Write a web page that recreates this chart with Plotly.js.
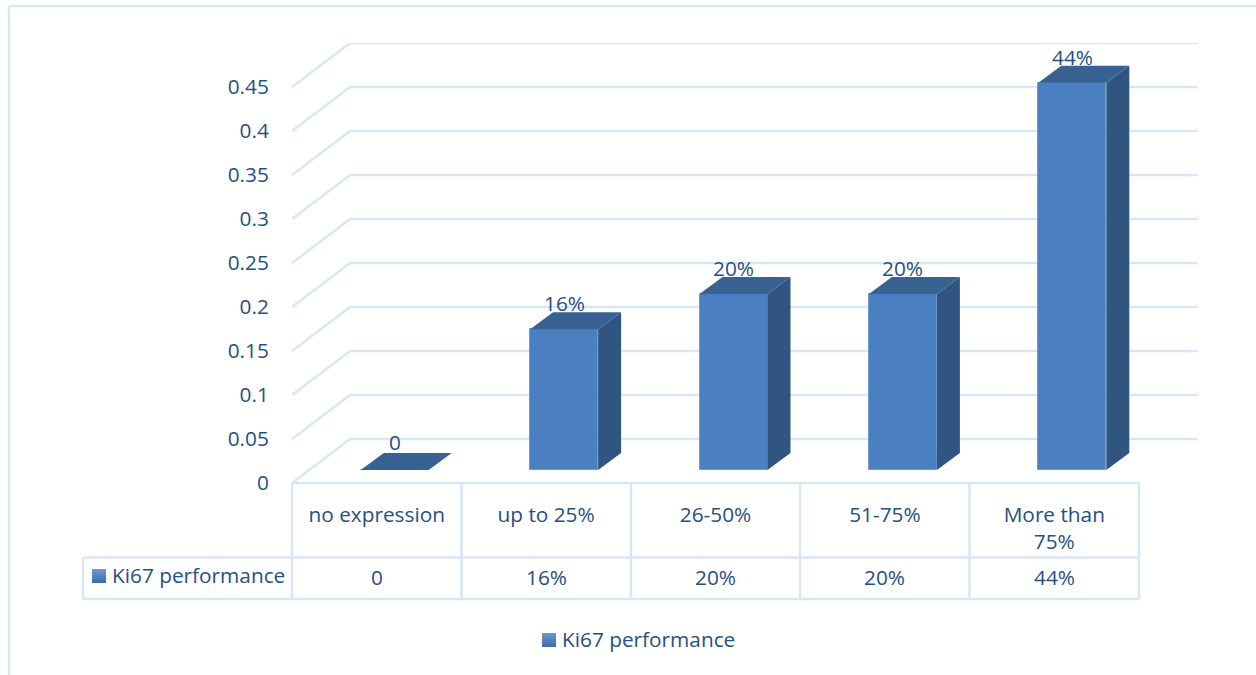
<!DOCTYPE html>
<html>
<head>
<meta charset="utf-8">
<script src="https://cdn.plot.ly/plotly-3.0.1.min.js"></script>
<style>html,body{margin:0;padding:0;background:#fff}#chart{width:1256px;height:675px}</style>
</head>
<body>
<div id="chart"></div>
<script>
// Ki67 expression groups and their share of cases
const categories = ['no expression', 'up to 25%', '26-50%', '51-75%', 'More than<br>75%'];
const values = [0, 0.16, 0.20, 0.20, 0.44];
const valueLabels = ['0', '16%', '20%', '20%', '44%'];
const seriesName = 'Ki67 performance';
const yTicks = [0, 0.05, 0.1, 0.15, 0.2, 0.25, 0.3, 0.35, 0.4, 0.45];
const yTickText = ['0', '0.05', '0.1', '0.15', '0.2', '0.25', '0.3', '0.35', '0.4', '0.45'];

// Plot frame in page pixels
const L = 292, R = 1198, T = 43, B = 483;
const colW = 169.4, pxPerUnit = 880;
const textCol = '#264f82', gridCol = '#d9e6f5';
const font = 'Open Sans, Noto Sans, sans-serif', fs = 20.8;

const px = x => (x - L) / (R - L);
const py = y => (B - y) / (B - T);
const idx = categories.map((_, i) => i);

// Front plane: category 0 sits in the middle of the first table column
const xMin = -0.5, xMax = xMin + (R - L) / colW;
// Wall depth in axis units
const wallDx = 58 / colW, wallDy = 0.05;
// The bars stand a little way into the floor
const barDx = 18 / colW, barDy = 13 / pxPerUnit;
const barW = 68 / colW;
const depthDx = 23 / colW, depthDy = 17 / pxPerUnit;

const traces = [];

// Gridlines run up the side wall and along the back wall
yTicks.forEach(v => traces.push({
  type: 'scatter', mode: 'lines', xaxis: 'x', yaxis: 'y',
  x: [xMin, xMin + wallDx, xMax], y: [v, v + wallDy, v + wallDy],
  line: {color: gridCol, width: 2.5}, cliponaxis: false,
  hoverinfo: 'skip', showlegend: false
}));

// Front faces of the columns
traces.push({
  type: 'bar', xaxis: 'x2', yaxis: 'y2', name: seriesName,
  x: idx, y: values, width: barW,
  marker: {color: '#4a80c2', line: {color: '#6d9ad2', width: 1}},
  hoverinfo: 'x+y', showlegend: false
});

// Top and side faces of the columns
values.forEach((v, i) => {
  const a = i - barW / 2, b = i + barW / 2;
  traces.push({
    type: 'scatter', mode: 'lines', xaxis: 'x2', yaxis: 'y2', fill: 'toself',
    x: [b, b, b + depthDx, b + depthDx, b], y: [0, v, v + depthDy, depthDy, 0],
    fillcolor: '#2f5580', line: {color: '#2f5580', width: 0},
    hoverinfo: 'skip', showlegend: false, cliponaxis: false
  });
  traces.push({
    type: 'scatter', mode: 'lines', xaxis: 'x2', yaxis: 'y2', fill: 'toself',
    x: [a, b, b + depthDx, a + depthDx, a], y: [v, v, v + depthDy, v + depthDy, v],
    fillcolor: '#386292', line: {color: '#386292', width: 0},
    hoverinfo: 'skip', showlegend: false, cliponaxis: false
  });
});

// Table rules under the plot
const shapes = [];
const rule = (x0, y0, x1, y1) => shapes.push({
  type: 'line', xref: 'paper', yref: 'paper',
  x0: px(x0), y0: py(y0), x1: px(x1), y1: py(y1),
  line: {color: gridCol, width: 2.5}
});
rule(L, B, 1139, B);
rule(83, 557.5, 1139, 557.5);
rule(83, 599, 1139, 599);
rule(83, 557.5, 83, 599);
[292, 461.5, 631, 800, 969.5, 1139].forEach(x => rule(x, B, x, 599));

// Outer chart frame
rule(9, 6, 1256, 6);
rule(9, 6, 9, 675);

// Series key: a small square shaded from light at the top to dark at the bottom
const swatch = (x, y) => {
  const size = 14, c0 = [112, 151, 207], c1 = [58, 110, 176];
  for (let r = 0; r < size; r++) {
    const f = r / (size - 1);
    const c = c0.map((v, k) => Math.round(v + (c1[k] - v) * f));
    shapes.push({
      type: 'rect', xref: 'paper', yref: 'paper', layer: 'above',
      x0: px(x), x1: px(x + size), y0: py(y + r + 1), y1: py(y + r),
      fillcolor: `rgb(${c.join(',')})`, line: {width: 0}
    });
  }
};
swatch(92, 569);
swatch(542, 633);

const annotations = [];
const textFont = {family: font, size: fs, color: textCol};

// Data labels above the columns
values.forEach((v, i) => annotations.push({
  xref: 'x2', yref: 'y2', x: i, y: v, yshift: v === 0 ? 28 : 26,
  text: valueLabels[i], showarrow: false, font: textFont,
  xanchor: 'center', yanchor: 'middle'
}));
// Value row of the table
valueLabels.forEach((t, i) => annotations.push({
  xref: 'x', yref: 'paper', x: i, y: py(577),
  text: t, showarrow: false, font: textFont,
  xanchor: 'center', yanchor: 'middle'
}));
// Row header and the key under the table
[[112, 574.5], [562, 638.5]].forEach(([x, y]) => annotations.push({
  xref: 'paper', yref: 'paper', x: px(x), y: py(y),
  text: seriesName, showarrow: false, font: textFont,
  xanchor: 'left', yanchor: 'middle', xshift: -2
}));

const layout = {
  width: 1256, height: 675,
  margin: {l: L, r: 1256 - R, t: T, b: 675 - B, pad: 0},
  paper_bgcolor: '#fff', plot_bgcolor: 'rgba(0,0,0,0)',
  font: textFont,
  xaxis: {
    type: 'linear', range: [xMin, xMax], showgrid: false, zeroline: false, showline: false,
    tickmode: 'array', tickvals: idx, ticktext: categories, tickangle: 0,
    ticks: 'outside', ticklen: 13, tickcolor: 'rgba(0,0,0,0)', tickfont: textFont,
    automargin: false
  },
  yaxis: {
    type: 'linear', range: [0, 0.5], showgrid: false, zeroline: false, showline: false,
    tickmode: 'array', tickvals: yTicks, ticktext: yTickText,
    ticks: 'outside', ticklen: 18, tickcolor: 'rgba(0,0,0,0)', tickfont: textFont,
    automargin: false
  },
  xaxis2: {
    type: 'linear', overlaying: 'x', side: 'bottom',
    range: [xMin - barDx, xMax - barDx], visible: false
  },
  yaxis2: {
    type: 'linear', overlaying: 'y', side: 'left',
    range: [-barDy, 0.5 - barDy], visible: false
  },
  bargap: 0,
  showlegend: false,
  shapes, annotations
};

Plotly.newPlot('chart', traces, layout, {displayModeBar: false, responsive: false});
</script>
</body>
</html>
